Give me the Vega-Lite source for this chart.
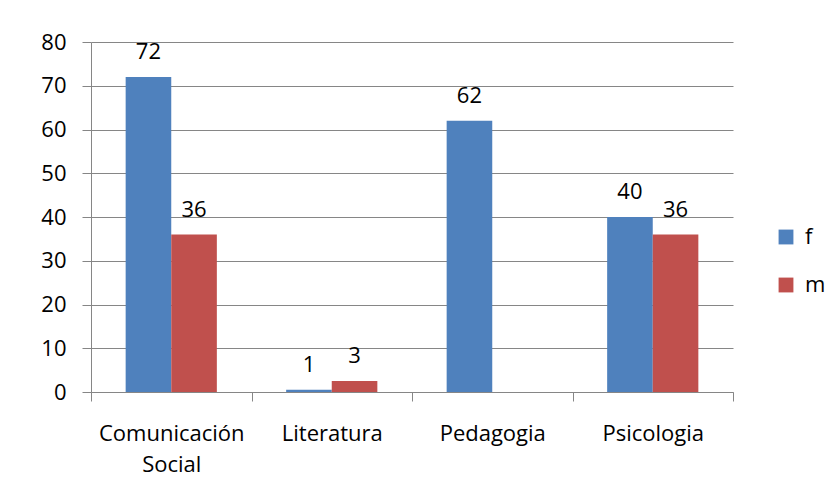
{
  "$schema": "https://vega.github.io/schema/vega-lite/v6.json",
  "autosize": {"type": "none"},
  "padding": {"left": 91, "top": 42, "right": 98, "bottom": 112},
  "width": 642,
  "height": 350,
  "background": "white",
  "config": {
    "font": "Open Sans",
    "view": {"stroke": null},
    "axis": {
      "labelFont": "Open Sans",
      "labelFontSize": 22,
      "labelColor": "#000000",
      "domainColor": "#868686",
      "tickColor": "#868686",
      "gridColor": "#868686",
      "gridOpacity": 1,
      "tickSize": 9,
      "title": null
    }
  },
  "data": {
    "values": [
      {"carrera": "Comunicación Social", "sexo": "f", "n": 72},
      {"carrera": "Comunicación Social", "sexo": "m", "n": 36},
      {"carrera": "Literatura", "sexo": "f", "n": 0.5},
      {"carrera": "Literatura", "sexo": "m", "n": 2.5},
      {"carrera": "Pedagogia", "sexo": "f", "n": 62},
      {"carrera": "Psicologia", "sexo": "f", "n": 40},
      {"carrera": "Psicologia", "sexo": "m", "n": 36}
    ]
  },
  "encoding": {
    "x": {
      "field": "carrera",
      "type": "nominal",
      "sort": null,
      "scale": {"paddingInner": 0, "paddingOuter": 0},
      "axis": {
        "labelAngle": 0,
        "tickBand": "extent",
        "domain": true,
        "ticks": true,
        "labelPadding": 22,
        "labelExpr": "datum.value == 'Comunicación Social' ? ['Comunicación', 'Social'] : datum.value",
        "labelLineHeight": 31,
        "labelBaseline": "top"
      }
    },
    "xOffset": {
      "field": "sexo",
      "type": "nominal",
      "scale": {"domain": ["f", "m"], "paddingOuter": 0.76, "paddingInner": 0}
    },
    "y": {
      "field": "n",
      "type": "quantitative",
      "scale": {"domain": [0, 80], "nice": false},
      "axis": {
        "values": [0, 10, 20, 30, 40, 50, 60, 70, 80],
        "grid": true,
        "labelPadding": 16,
        "domain": true
      }
    }
  },
  "layer": [
    {
      "mark": {"type": "bar"},
      "encoding": {
        "color": {
          "field": "sexo",
          "type": "nominal",
          "scale": {"domain": ["f", "m"], "range": ["#4F81BD", "#C0504D"]},
          "legend": {
            "title": null,
            "orient": "none",
            "legendX": 684,
            "legendY": 184,
            "symbolType": "square",
            "symbolSize": 220,
            "symbolStrokeWidth": 0,
            "labelFontSize": 22,
            "labelFont": "Open Sans",
            "labelColor": "#000000",
            "rowPadding": 26,
            "labelOffset": 8
          }
        }
      }
    },
    {
      "mark": {"type": "text", "baseline": "alphabetic", "dy": -18, "fontSize": 22, "font": "Open Sans", "color": "#000000"},
      "encoding": {
        "text": {"field": "n", "type": "quantitative", "format": ".0f"}
      }
    }
  ]
}
